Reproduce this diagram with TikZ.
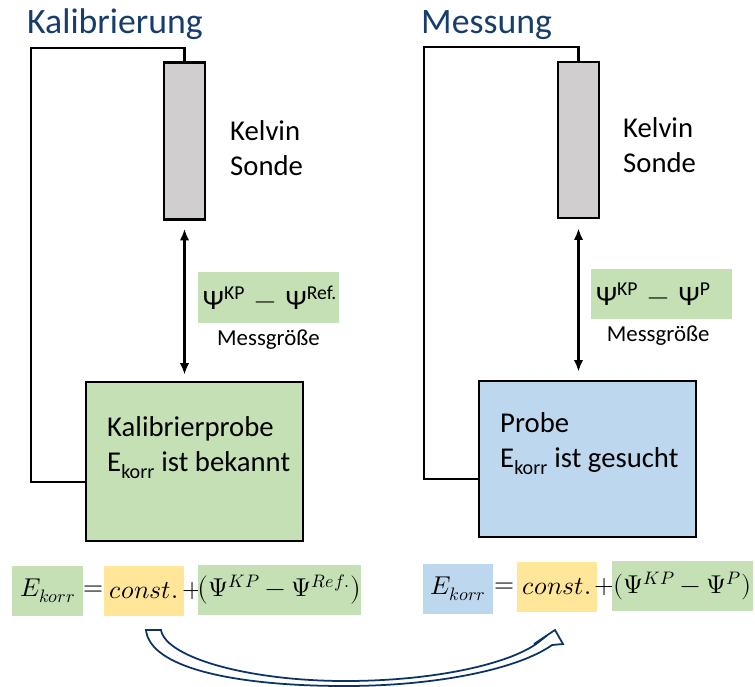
\documentclass[tikz,border=0pt]{standalone}
\usepackage{fontspec}
\usepackage{unicode-math}
\setmainfont{Carlito}
\usetikzlibrary{positioning,arrows.meta}

\definecolor{gruen}{HTML}{C5E0B4}
\definecolor{blau}{HTML}{BDD7EE}
\definecolor{gelb}{HTML}{FFE699}
\definecolor{sondengrau}{HTML}{D0CECE}
\definecolor{titelblau}{HTML}{173D6B}
\definecolor{pfeilblau}{HTML}{0B3364}

\tikzset{
  kabel/.style={line width=2pt},
  sonde/.style={draw, line width=2pt, fill=sondengrau, minimum width=1.23cm},
  probe/.style={draw, line width=2pt, minimum width=6.51cm},
  messpfeil/.style={line width=2pt, {Latex[length=10pt, width=8pt]}-{Latex[length=10pt, width=8pt]}},
  messgroesse/.style={fill=gruen, minimum width=4.23cm, inner xsep=0.15cm, text width=3.93cm, align=left, font=\fontsize{24}{29}\selectfont},
  formel/.style={minimum height=1.5cm, inner sep=0pt, font=\fontsize{22}{26}\selectfont},
  schrift/.style={inner sep=0pt, align=left, font=\fontsize{24.5}{30}\selectfont},
  titel/.style={inner sep=0pt, text=titelblau, font=\fontsize{30.5}{36}\selectfont},
}

\begin{document}
\begin{tikzpicture}[x=0.03cm, y=-0.03cm]
\useasboundingbox (0,0) rectangle (755,686);

% Titel
\node[titel, anchor=base west] (titelL) at (27,33) {Kalibrierung};
\node[titel, anchor=base west] (titelR) at (421,33) {Messung};

% Kelvinsonden
\node[sonde, minimum height=4.71cm] (sondeL) at (184.5,141) {};
\node[sonde, minimum height=4.68cm] (sondeR) at (578.5,140) {};
\node[schrift, anchor=north west] (kelvinL) at (230,120) {Kelvin\\Sonde};
\node[schrift, anchor=north west] (kelvinR) at (623,117) {Kelvin\\Sonde};

% Proben
\node[probe, fill=gruen, minimum height=4.77cm] (probeL) at (194.5,461.5) {};
\node[probe, fill=blau, minimum height=4.68cm] (probeR) at (587.5,459) {};
\node[schrift, anchor=north west] (textL) at (107,416) {Kalibrierprobe\\E\textsubscript{korr} ist bekannt};
\node[schrift, anchor=north west] (textR) at (500,412) {Probe\\E\textsubscript{korr} ist gesucht};

% Kabel
\coordinate (eckeLo) at (31,48);
\coordinate (eckeLu) at (31,482);
\draw[kabel] (sondeL.north) |- (eckeLo) -- (eckeLu) -- (eckeLu -| probeL.west);
\coordinate (eckeRo) at (424,47);
\coordinate (eckeRu) at (424,479);
\draw[kabel] (sondeR.north) |- (eckeRo) -- (eckeRu) -- (eckeRu -| probeR.west);

% Messgroesse
\draw[messpfeil] ([yshift=-0.24cm]sondeL.south) -- ([yshift=0.18cm]sondeL.south |- probeL.north);
\draw[messpfeil] ([yshift=-0.27cm]sondeR.south) -- ([yshift=0.24cm]sondeR.south |- probeR.north);
\node[messgroesse, minimum height=1.53cm] (deltaL) at (268.5,297.5) {Ψ\textsuperscript{KP}~$-$~Ψ\textsuperscript{Ref.}};
\node[messgroesse, minimum height=1.5cm] (deltaR) at (661.5,294) {Ψ\textsuperscript{KP}~$-$~Ψ\textsuperscript{P}};
\node[inner sep=0pt, font=\fontsize{19.5}{23}\selectfont, below=0.2cm of deltaL] (messL) {Messgröße};
\node[inner sep=0pt, font=\fontsize{19.5}{23}\selectfont, below=0.2cm of deltaR, xshift=-0.1cm] (messR) {Messgröße};

% Formel links
\node[formel, fill=gruen, minimum width=2.13cm] (ekorrL) at (47.5,591) {$E_{korr}$};
\node[formel] (gleichL) at (93.5,591) {$=$};
\node[formel, fill=gelb, minimum width=2.4cm] (constL) at (144,591) {$const.$};
\node[formel] (plusL) at (192.5,591) {$+$};
\node[formel, fill=gruen, minimum width=4.71cm] (klammerL) at (279.5,590) {$\bigl(\Psi^{KP}-\Psi^{Ref.}\bigr)$};

% Formel rechts
\node[formel, fill=blau, minimum width=2.1cm] (ekorrR) at (458,589) {$E_{korr}$};
\node[formel] (gleichR) at (505,588) {$=$};
\node[formel, fill=gelb, minimum width=2.4cm] (constR) at (557,587) {$const.$};
\node[formel] (plusR) at (605,587) {$+$};
\node[formel, fill=gruen, minimum width=4.23cm] (klammerR) at (682.5,586) {$(\Psi^{KP}-\Psi^{P})$};

% Pfeil
\draw[line width=1.5pt, draw=pfeilblau, fill=white, line join=miter]
  (146,630) -- (161,630) .. controls (166,658) and (250,681) .. (345,681)
  .. controls (440,681) and (515,662) .. (540,641) -- (534,644) -- (555,630)
  -- (563,644) -- (552,645) .. controls (520,668) and (440,686) .. (345,686)
  .. controls (235,686) and (150,668) .. (146,630) -- cycle;

\end{tikzpicture}
\end{document}
